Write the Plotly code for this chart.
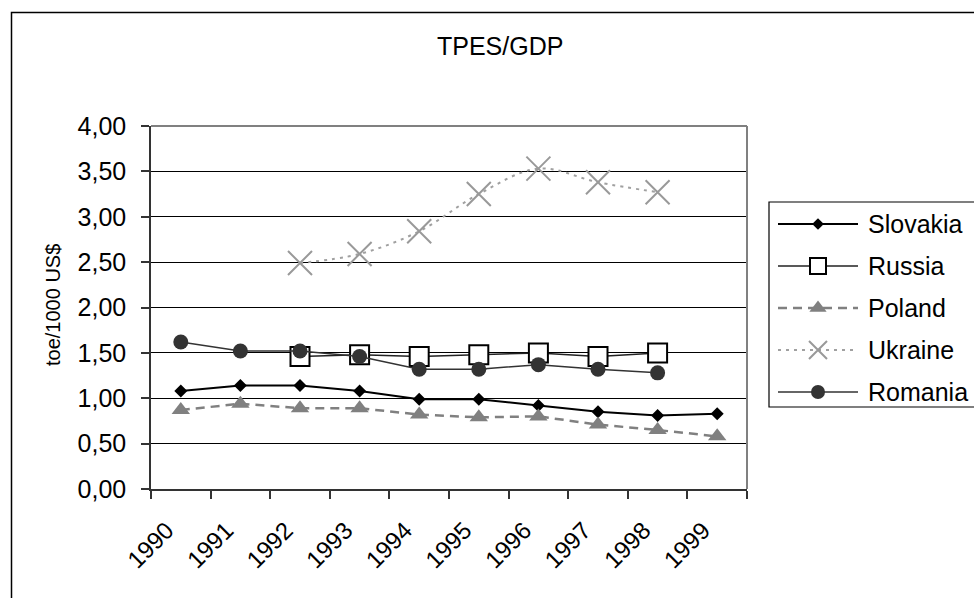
import plotly.graph_objects as go

# TPES/GDP by country, toe per 1000 US$
years = ["1990", "1991", "1992", "1993", "1994", "1995", "1996", "1997", "1998", "1999"]
slovakia = [1.08, 1.14, 1.14, 1.08, 0.99, 0.99, 0.92, 0.85, 0.81, 0.83]
russia = [None, None, 1.46, 1.48, 1.46, 1.48, 1.50, 1.46, 1.50, None]
poland = [0.87, 0.94, 0.89, 0.89, 0.82, 0.79, 0.80, 0.71, 0.65, 0.58]
ukraine = [None, None, 2.49, 2.59, 2.84, 3.25, 3.53, 3.38, 3.27, None]
romania = [1.62, 1.52, 1.52, 1.46, 1.32, 1.32, 1.37, 1.32, 1.28, None]
country_names = ["Slovakia", "Russia", "Poland", "Ukraine", "Romania"]

W, H = 974, 598
FONT = "Arial, Liberation Sans, sans-serif"

# pixel frame of the plotting area
PL, PR, PT, PB = 151, 747, 126, 489
# pixel frame of the key box
LL, LT, LB = 769, 202, 407


def px_x(v):
    return v / W


def px_y(v):
    return 1 - v / H


styles = [
    dict(line=dict(color="#000000", width=2),
         marker=dict(symbol="diamond", size=10, color="#000000")),
    dict(line=dict(color="#222222", width=1.5),
         marker=dict(symbol="square", size=19, color="#ffffff",
                     line=dict(color="#000000", width=2))),
    dict(line=dict(color="#808080", width=2.5, dash="9px,6px"),
         marker=dict(symbol="triangle-up", size=16, color="#808080")),
    dict(line=dict(color="#a0a0a0", width=2, dash="3px,5px", shape="spline"),
         marker=dict(symbol="x-thin-open", size=24, color="#999999",
                     line=dict(color="#999999", width=2))),
    dict(line=dict(color="#333333", width=1.5),
         marker=dict(symbol="circle", size=15, color="#333333")),
]
series = [slovakia, russia, poland, ukraine, romania]

fig = go.Figure()
for name, vals, st in zip(country_names, series, styles):
    fig.add_trace(go.Scatter(
        x=years, y=vals, name=name, mode="lines+markers",
        line=st["line"], marker=st["marker"], showlegend=False,
        xaxis="x", yaxis="y",
    ))

# key: sample line, sample marker and label for each country
key_marker_sizes = {"Slovakia": 9, "Russia": 16, "Poland": 15, "Ukraine": 18, "Romania": 14}
row_y = [224 + 42 * i for i in range(len(country_names))]
for name, st, ry in zip(country_names, styles, row_y):
    ln = dict(st["line"])
    ln.pop("shape", None)
    fig.add_trace(go.Scatter(
        x=[778, 858], y=[ry, ry], mode="lines", line=ln,
        showlegend=False, hoverinfo="skip", xaxis="x2", yaxis="y2",
    ))
    mk = dict(st["marker"])
    mk["size"] = key_marker_sizes[name]
    fig.add_trace(go.Scatter(
        x=[818], y=[ry], mode="markers", marker=mk,
        showlegend=False, hoverinfo="skip", xaxis="x2", yaxis="y2",
    ))

annotations = [
    dict(text="TPES/GDP", x=px_x(500), y=px_y(46), xref="paper", yref="paper",
         showarrow=False, font=dict(family=FONT, size=25, color="#000000"),
         xanchor="center", yanchor="middle"),
    dict(text="toe/1000 US$", x=px_x(53), y=px_y(305), xref="paper", yref="paper",
         showarrow=False, textangle=-90,
         font=dict(family=FONT, size=20, color="#000000"),
         xanchor="center", yanchor="middle"),
]
for name, ry in zip(country_names, row_y):
    annotations.append(dict(
        text=name, x=866, y=ry, xref="x2", yref="y2", showarrow=False,
        xanchor="left", yanchor="middle",
        font=dict(family=FONT, size=25, color="#000000"),
    ))

shapes = [
    # outer chart frame
    dict(type="rect", xref="paper", yref="paper",
         x0=px_x(11.5), x1=1.05, y0=-0.05, y1=px_y(12.5),
         line=dict(color="#000000", width=1.5), layer="below"),
    # key box
    dict(type="rect", xref="paper", yref="paper",
         x0=px_x(LL), x1=1.05, y0=px_y(LB), y1=px_y(LT),
         line=dict(color="#000000", width=1.2), layer="below"),
    # top and right edges of the plotting area
    dict(type="line", xref="x domain", yref="y domain", x0=0, x1=1, y0=1, y1=1,
         line=dict(color="#808080", width=2), layer="above"),
    dict(type="line", xref="x domain", yref="y domain", x0=1, x1=1, y0=0, y1=1,
         line=dict(color="#808080", width=2), layer="above"),
]

fig.update_layout(
    width=W, height=H,
    margin=dict(l=0, r=0, t=0, b=0, autoexpand=False),
    paper_bgcolor="#ffffff", plot_bgcolor="#ffffff",
    separators=", ",
    font=dict(family=FONT, color="#000000"),
    xaxis=dict(
        domain=[px_x(PL), px_x(PR)], type="category", range=[-0.5, 9.5],
        tickson="boundaries", ticks="outside", ticklen=8, tickwidth=1.5,
        tickcolor="#333333", showline=True, linecolor="#333333", linewidth=1.5,
        showgrid=False, tickangle=-45, automargin=False,
        ticklabelstandoff=16, ticklabelshift=-14,
        tickfont=dict(family=FONT, size=24, color="#000000"),
        anchor="y", zeroline=False,
    ),
    yaxis=dict(
        domain=[px_y(PB), px_y(PT)], range=[0, 4], dtick=0.5, tickformat=".2f",
        ticks="outside", ticklen=8, tickwidth=1.5, tickcolor="#333333",
        showline=True, linecolor="#333333", linewidth=1.5,
        showgrid=True, gridcolor="#000000", gridwidth=1,
        zeroline=False, automargin=False, ticklabelstandoff=10,
        tickfont=dict(family=FONT, size=25, color="#000000"),
        anchor="x",
    ),
    xaxis2=dict(domain=[px_x(LL), 1.0], range=[LL, W], visible=False,
                anchor="y2", fixedrange=True),
    yaxis2=dict(domain=[px_y(LB), px_y(LT)], range=[LB, LT], visible=False,
                anchor="x2", fixedrange=True),
    annotations=annotations,
    shapes=shapes,
    showlegend=False,
)

fig.write_html("out.html")
